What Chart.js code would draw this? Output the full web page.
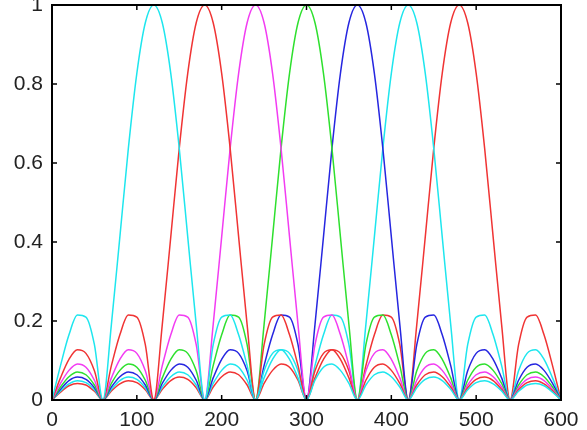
<!DOCTYPE html>
<html>
<head>
<meta charset="utf-8">
<script src="https://cdn.jsdelivr.net/npm/chart.js@4.4.1/dist/chart.umd.min.js"></script>
<style>
  html, body { margin: 0; padding: 0; background: #fff; }
  #wrap { width: 587px; height: 430px; position: relative; }
</style>
</head>
<body>
<div id="wrap"><canvas id="c"></canvas></div>
<script>
// sample positions (x axis)
const xs = [0,10,20,30,40,50,60,70,80,90,100,110,120,130,140,150,160,170,180,190,200,
  210,220,230,240,250,260,270,280,290,300,310,320,330,340,350,360,370,380,390,400,
  410,420,430,440,450,460,470,480,490,500,510,520,530,540,550,560,570,580,590,600];

const xTicks = [0,100,200,300,400,500,600];
const yTicks = [0,0.2,0.4,0.6,0.8,1];

// peak at 120
const cyanA = [0,.087,.165,.215,.21,.14,
  0,.191,.413,.637,.827,.955,1,.955,.827,.637,.413,.191,
  0,.14,.21,.215,.165,.087,
  0,.074,.118,.127,.103,.056,
  0,.050,.083,.091,.075,.042,
  0,.038,.064,.071,.059,.033,
  0,.031,.052,.058,.049,.027,
  0,.026,.044,.049,.041,.023,
  0,.022,.038,.042,.036,.020,0];

// peak at 180
const redA = [0,.056,.103,.127,.118,.074,
  0,.087,.165,.215,.21,.14,
  0,.191,.413,.637,.827,.955,1,.955,.827,.637,.413,.191,
  0,.14,.21,.215,.165,.087,
  0,.074,.118,.127,.103,.056,
  0,.050,.083,.091,.075,.042,
  0,.038,.064,.071,.059,.033,
  0,.031,.052,.058,.049,.027,
  0,.026,.044,.049,.041,.023,0];

// peak at 240
const magenta = [0,.042,.075,.091,.083,.050,
  0,.056,.103,.127,.118,.074,
  0,.087,.165,.215,.21,.14,
  0,.191,.413,.637,.827,.955,1,.955,.827,.637,.413,.191,
  0,.14,.21,.215,.165,.087,
  0,.074,.118,.127,.103,.056,
  0,.050,.083,.091,.075,.042,
  0,.038,.064,.071,.059,.033,
  0,.031,.052,.058,.049,.027,0];

// peak at 300
const green = [0,.033,.059,.071,.064,.038,
  0,.042,.075,.091,.083,.050,
  0,.056,.103,.127,.118,.074,
  0,.087,.165,.215,.21,.14,
  0,.191,.413,.637,.827,.955,1,.955,.827,.637,.413,.191,
  0,.14,.21,.215,.165,.087,
  0,.074,.118,.127,.103,.056,
  0,.050,.083,.091,.075,.042,
  0,.038,.064,.071,.059,.033,0];

// peak at 360
const blue = [0,.027,.049,.058,.052,.031,
  0,.033,.059,.071,.064,.038,
  0,.042,.075,.091,.083,.050,
  0,.056,.103,.127,.118,.074,
  0,.087,.165,.215,.21,.14,
  0,.191,.413,.637,.827,.955,1,.955,.827,.637,.413,.191,
  0,.14,.21,.215,.165,.087,
  0,.074,.118,.127,.103,.056,
  0,.050,.083,.091,.075,.042,0];

// peak at 420
const cyanB = [0,.023,.041,.049,.044,.026,
  0,.027,.049,.058,.052,.031,
  0,.033,.059,.071,.064,.038,
  0,.042,.075,.091,.083,.050,
  0,.056,.103,.127,.118,.074,
  0,.087,.165,.215,.21,.14,
  0,.191,.413,.637,.827,.955,1,.955,.827,.637,.413,.191,
  0,.14,.21,.215,.165,.087,
  0,.074,.118,.127,.103,.056,0];

// peak at 480
const redB = [0,.020,.036,.042,.038,.022,
  0,.023,.041,.049,.044,.026,
  0,.027,.049,.058,.052,.031,
  0,.033,.059,.071,.064,.038,
  0,.042,.075,.091,.083,.050,
  0,.056,.103,.127,.118,.074,
  0,.087,.165,.215,.21,.14,
  0,.191,.413,.637,.827,.955,1,.955,.827,.637,.413,.191,
  0,.14,.21,.215,.165,.087,0];

const CYAN = '#1ee6ee', RED = '#f03434', MAG = '#f23cf2', GRN = '#2ee02e', BLU = '#2626e0';

const series = [
  [cyanA, CYAN], [redA, RED], [magenta, MAG], [green, GRN], [blue, BLU], [cyanB, CYAN], [redB, RED]
];

const font = { family: '"Liberation Sans", Arial, sans-serif', size: 21 };
const AX = '#000';

// box outline + inward ticks on top of the curves
const boxLine = {
  id: 'boxLine',
  afterDraw(chart){
    const c = chart.ctx, a = chart.chartArea, x = chart.scales.x, y = chart.scales.y;
    c.save();
    c.strokeStyle = AX;
    c.lineWidth = 2;
    c.strokeRect(a.left, a.top, a.right-a.left, a.bottom-a.top);
    c.lineWidth = 1.5;
    c.beginPath();
    xTicks.forEach(v=>{
      const px = x.getPixelForValue(v);
      c.moveTo(px, a.bottom); c.lineTo(px, a.bottom-5);
      c.moveTo(px, a.top); c.lineTo(px, a.top+5);
    });
    yTicks.forEach(v=>{
      const py = y.getPixelForValue(v);
      c.moveTo(a.left, py); c.lineTo(a.left+5, py);
      c.moveTo(a.right, py); c.lineTo(a.right-5, py);
    });
    c.stroke();
    c.restore();
  }
};

function side(pos, ticks, showLabels, size){
  const horiz = pos === 'top' || pos === 'bottom';
  return {
    type: 'linear',
    position: pos,
    min: 0, max: horiz ? 600 : 1,
    afterBuildTicks(s){ s.ticks = ticks.map(v=>({value:v})); },
    ticks: {
      display: showLabels, font, color: '#222',
      padding: horiz ? 8 : 9, maxRotation: 0,
      callback: v => String(v)
    },
    grid: { display: false, drawTicks: false },
    border: { display: true, color: AX, width: 2 },
    afterFit(s){
      if (horiz) { s.height = size; s.paddingLeft = 0; s.paddingRight = 0; }
      else { s.width = size; s.paddingTop = 0; s.paddingBottom = 0; }
    }
  };
}

new Chart(document.getElementById('c'), {
  type: 'line',
  data: {
    datasets: series.map(([vals,col])=>({
      data: xs.map((x,i)=>({x, y: vals[i]})),
      xAxisID: 'x',
      yAxisID: 'y',
      borderColor: col,
      borderWidth: 1.5,
      pointRadius: 0,
      cubicInterpolationMode: 'monotone',
      fill: false
    }))
  },
  options: {
    responsive: true,
    maintainAspectRatio: false,
    animation: false,
    layout: { padding: 0 },
    plugins: { legend: { display: false }, tooltip: { enabled: false } },
    scales: {
      x: side('bottom', xTicks, true, 30),
      y: side('left', yTicks, true, 52),
      x2: side('top', xTicks, false, 5),
      y2: side('right', yTicks, false, 26)
    }
  },
  plugins: [boxLine]
});
</script>
</body>
</html>
